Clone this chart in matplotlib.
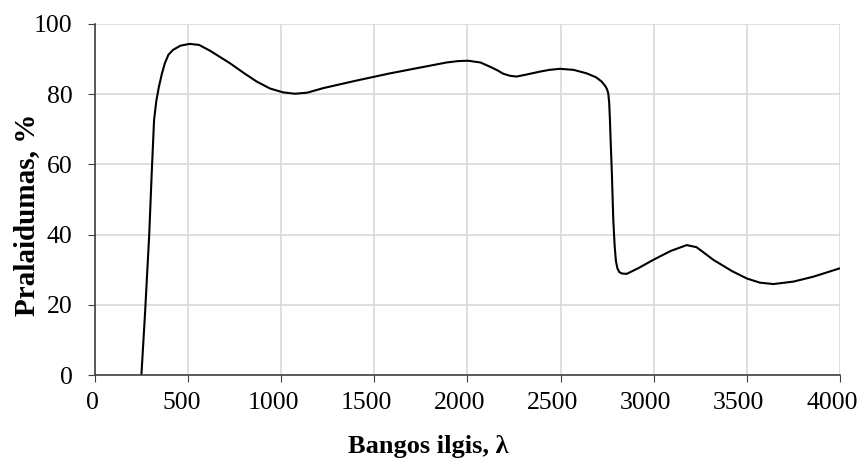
import matplotlib
matplotlib.use("Agg")
import matplotlib.pyplot as plt
from matplotlib.transforms import ScaledTranslation

wavelength = [250, 270, 292, 305, 318, 330, 344, 360, 376, 395, 420, 460, 510, 560, 620, 680, 725, 800, 868,
              940, 1010, 1074, 1140, 1226, 1400, 1584, 1750, 1888, 1950, 2004, 2070, 2121, 2160, 2192, 2230,
              2264, 2320, 2389, 2440, 2497, 2570, 2640, 2690, 2720, 2740, 2750, 2756, 2761, 2765, 2770, 2775,
              2783, 2790, 2797, 2805, 2815, 2830, 2855, 2920, 2998, 3090, 3177, 3230, 3320, 3420, 3499, 3570,
              3642, 3750, 3857, 4000]
transmit = [0, 18, 40, 57, 72.6, 78, 82.1, 85.8, 88.8, 91.2, 92.6, 93.8, 94.3, 94.0, 92.3, 90.3, 88.8, 86.0, 83.6,
            81.6, 80.5, 80.1, 80.4, 81.7, 83.8, 85.9, 87.6, 89.0, 89.4, 89.5, 89.0, 87.8, 86.8, 85.8, 85.2,
            85.0, 85.6, 86.4, 86.9, 87.2, 86.9, 85.9, 84.8, 83.6, 82.3, 81.3, 80.2, 77.5, 72.6, 65, 58,
            44.2, 37, 32.5, 30.4, 29.3, 28.9, 28.8, 30.5, 32.8, 35.3, 37.0, 36.4, 32.8, 29.6, 27.5, 26.3,
            25.9, 26.6, 28.0, 30.4]

x_ticks = [0, 500, 1000, 1500, 2000, 2500, 3000, 3500, 4000]
y_ticks = [0, 20, 40, 60, 80, 100]
x_label = "Bangos ilgis, λ"
y_label = "Pralaidumas, %"

plt.rcParams['font.family'] = ['Liberation Serif', 'DejaVu Serif']

fig = plt.figure(figsize=(8.62, 4.59), dpi=100)
ax = fig.add_axes([0.110, 0.183, 0.8645, 0.765])
ax.plot(wavelength, transmit, color='black', lw=1.5, solid_joinstyle='round')
ax.set_xlim(0, 4000)
ax.set_ylim(0, 100)
ax.set_xticks(x_ticks)
ax.set_yticks(y_ticks)
ax.grid(True, color='#d9d9d9', lw=1.2)
ax.set_axisbelow(True)
for s in ['top', 'right']:
    ax.spines[s].set_visible(False)
for s in ['left', 'bottom']:
    ax.spines[s].set_color('#404040')
    ax.spines[s].set_linewidth(1.2)
ax.tick_params(axis='both', labelsize=18.5, direction='out', length=5, color='#404040')
ax.tick_params(axis='x', pad=7)
ax.tick_params(axis='y', pad=11)
for lab in ax.get_xticklabels():
    n = len(lab.get_text())
    lab.set_transform(lab.get_transform() + ScaledTranslation(-2.0 * n / 100, 0, fig.dpi_scale_trans))

ax.set_xlabel(x_label, fontsize=19, fontweight='bold')
ax.xaxis.set_label_coords(0.448, -0.172)
ax.xaxis.label.set_va('top')
ax.set_ylabel(y_label, fontsize=21, fontweight='bold')
ax.yaxis.set_label_coords(-0.074, 0.456)
fig.savefig('out.png', dpi=100)
